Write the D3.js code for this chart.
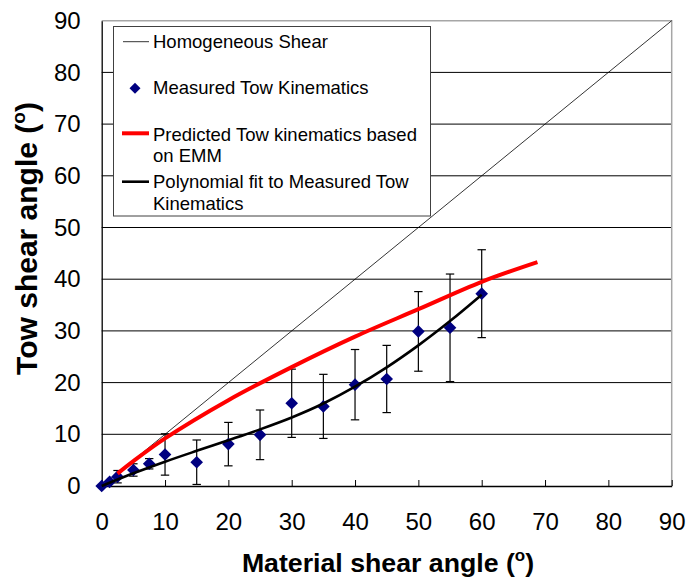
<!DOCTYPE html>
<html>
<head>
<meta charset="utf-8">
<script src="https://cdn.jsdelivr.net/npm/d3@7"></script>
<style>
  body { margin: 0; background: #fff; }
  text { font-family: "Liberation Sans", Arial, sans-serif; }
</style>
</head>
<body>
<div id="chart"></div>
<script>
// Measured tow kinematics (with error bars)
const measX = [0, 1.25, 2.5, 5, 7.5, 10, 15, 20, 25, 30, 35, 40, 45, 50, 55, 60];
const measY = [0, 0.8, 1.8, 3.1, 4.3, 6.1, 4.6, 8.1, 9.9, 16.0, 15.4, 19.6, 20.7, 29.9, 30.6, 37.2];
const measErr = [0, 0.3, 1.2, 1.2, 1.0, 4.0, 4.3, 4.2, 4.8, 6.6, 6.2, 6.8, 6.5, 7.7, 10.4, 8.5];

// Predicted tow kinematics based on EMM (red)
const emmX = [2.5, 5, 10, 20, 30, 40, 50, 60, 68.8];
const emmY = [2.4, 4.8, 9.2, 16.6, 23.0, 28.9, 34.2, 39.5, 43.3];

// Polynomial fit to measured (black)
const fitX = [0, 5, 10, 15, 20, 25, 30, 35, 40, 45, 50, 55, 60];
const fitY = [0, 2.45, 4.7, 6.8, 8.85, 10.95, 13.25, 15.95, 19.2, 22.95, 27.2, 31.9, 37.0];

// Homogeneous shear (diagonal)
const homX = [0, 90];
const homY = [0, 90];

const xTicks = [0, 10, 20, 30, 40, 50, 60, 70, 80, 90];
const yTicks = [0, 10, 20, 30, 40, 50, 60, 70, 80, 90];

var width = 688, height = 580;

var svg = d3.select("#chart")
  .append("svg")
    .attr("width", width)
    .attr("height", height);

var x = d3.scaleLinear().domain([0, 90]).range([101.7, 671.7]);
var y = d3.scaleLinear().domain([0, 90]).range([486, 20.7]);

// gridlines
svg.append("g")
  .selectAll("line")
  .data(yTicks.filter(d => d > 0 && d < 90))
  .enter().append("line")
    .attr("x1", x(0)).attr("x2", x(90))
    .attr("y1", d => y(d)).attr("y2", d => y(d))
    .attr("stroke", "#000").attr("stroke-width", 1);

// plot area border (top, right) in gray
svg.append("path")
  .attr("d", `M${x(0)},${y(90)}H${x(90)}V${y(0)}`)
  .attr("fill", "none")
  .attr("stroke", "#a6a6a6")
  .attr("stroke-width", 1.5);

// homogeneous shear
var lineFn = d3.line().x(d => x(d[0])).y(d => y(d[1]));
svg.append("path")
  .attr("d", lineFn(d3.zip(homX, homY)))
  .attr("fill", "none")
  .attr("stroke", "#000")
  .attr("stroke-width", 0.8);

// x axis (inside ticks)
var xAxis = svg.append("g")
  .attr("transform", `translate(0,${y(0)})`)
  .call(d3.axisBottom(x).tickValues(xTicks).tickSizeInner(-6).tickSizeOuter(0).tickPadding(27));
xAxis.select(".domain").attr("stroke", "#000").attr("stroke-width", 1.3);
xAxis.selectAll(".tick line").attr("stroke", "#000");
xAxis.selectAll("text")
  .attr("font-size", "24px")
  .attr("fill", "#000")
  .style("font-family", '"Liberation Sans", Arial, sans-serif');

// y axis
var yAxis = svg.append("g")
  .attr("transform", `translate(${x(0)},0)`)
  .call(d3.axisLeft(y).tickValues(yTicks).tickSizeInner(0).tickSizeOuter(0).tickPadding(21));
yAxis.select(".domain").attr("stroke", "#000").attr("stroke-width", 1.3);
yAxis.selectAll("text")
  .attr("font-size", "24px")
  .attr("fill", "#000")
  .style("font-family", '"Liberation Sans", Arial, sans-serif');

// error bars
var meas = measX.map((d, i) => ({x: d, y: measY[i], e: measErr[i]}));
var eb = svg.append("g").attr("stroke", "#000").attr("stroke-width", 1.2);
meas.filter(d => d.e > 0.5).forEach(d => {
  eb.append("line")
    .attr("x1", x(d.x)).attr("x2", x(d.x))
    .attr("y1", y(d.y - d.e)).attr("y2", y(d.y + d.e));
  [d.y - d.e, d.y + d.e].forEach(v => {
    eb.append("line")
      .attr("x1", x(d.x) - 4.2).attr("x2", x(d.x) + 4.2)
      .attr("y1", y(v)).attr("y2", y(v));
  });
});

// diamond marker (half diagonal ~6.3px)
var diamondType = {
  draw: function(context, size) {
    var r = Math.sqrt(size / 2);
    context.moveTo(0, -r);
    context.lineTo(r, 0);
    context.lineTo(0, r);
    context.lineTo(-r, 0);
    context.closePath();
  }
};
var diamond = d3.symbol().type(diamondType).size(80);
svg.append("g")
  .selectAll("path")
  .data(meas)
  .enter().append("path")
    .attr("d", diamond)
    .attr("transform", d => `translate(${x(d.x)},${y(d.y)})`)
    .attr("fill", "#000080");

// EMM prediction (red)
var curveFn = d3.line().curve(d3.curveCatmullRom).x(d => x(d[0])).y(d => y(d[1]));
svg.append("path")
  .attr("d", curveFn(d3.zip(emmX, emmY)))
  .attr("fill", "none")
  .attr("stroke", "#ff0000")
  .attr("stroke-width", 4);

// polynomial fit (black)
svg.append("path")
  .attr("d", curveFn(d3.zip(fitX, fitY)))
  .attr("fill", "none")
  .attr("stroke", "#000")
  .attr("stroke-width", 2.6);

// legend
var lg = svg.append("g");
lg.append("rect")
  .attr("x", 113.5).attr("y", 26.5)
  .attr("width", 317).attr("height", 189.5)
  .attr("fill", "#fff")
  .attr("stroke", "#404040")
  .attr("stroke-width", 1);

var lgFont = "18.5px";
function lgText(tx, ty, str) {
  lg.append("text")
    .attr("x", tx).attr("y", ty)
    .attr("font-size", lgFont)
    .attr("fill", "#000")
    .text(str);
}
lg.append("line").attr("x1", 123).attr("x2", 149).attr("y1", 41.7).attr("y2", 41.7)
  .attr("stroke", "#000").attr("stroke-width", 0.8);
lgText(153, 47.7, "Homogeneous Shear");

lg.append("path").attr("d", d3.symbol().type(diamondType).size(60)).attr("transform", "translate(135,88.3)").attr("fill", "#000080");
lgText(153, 94.3, "Measured Tow Kinematics");

lg.append("line").attr("x1", 122).attr("x2", 149).attr("y1", 133.3).attr("y2", 133.3)
  .attr("stroke", "#ff0000").attr("stroke-width", 4);
lgText(153, 140.7, "Predicted Tow kinematics based");
lgText(153, 161.7, "on EMM");

lg.append("line").attr("x1", 122).attr("x2", 149).attr("y1", 181.7).attr("y2", 181.7)
  .attr("stroke", "#000").attr("stroke-width", 2.6);
lgText(153, 188.3, "Polynomial fit to Measured Tow");
lgText(153, 210, "Kinematics");

// axis titles
var xt = svg.append("text")
  .attr("x", 388).attr("y", 571.5)
  .attr("text-anchor", "middle")
  .attr("font-size", "26.7px")
  .attr("font-weight", "bold")
  .attr("fill", "#000");
xt.append("tspan").text("Material shear angle (");
xt.append("tspan").attr("font-size", "17px").attr("dy", "-11").text("o");
xt.append("tspan").attr("dy", "11").text(")");

var yt = svg.append("text")
  .attr("transform", "translate(37,238.5) rotate(-90)")
  .attr("text-anchor", "middle")
  .attr("font-size", "30px")
  .attr("font-weight", "bold")
  .attr("fill", "#000");
yt.append("tspan").text("Tow shear angle (");
yt.append("tspan").attr("font-size", "19px").attr("dy", "-12").text("o");
yt.append("tspan").attr("dy", "12").text(")");
</script>
</body>
</html>
